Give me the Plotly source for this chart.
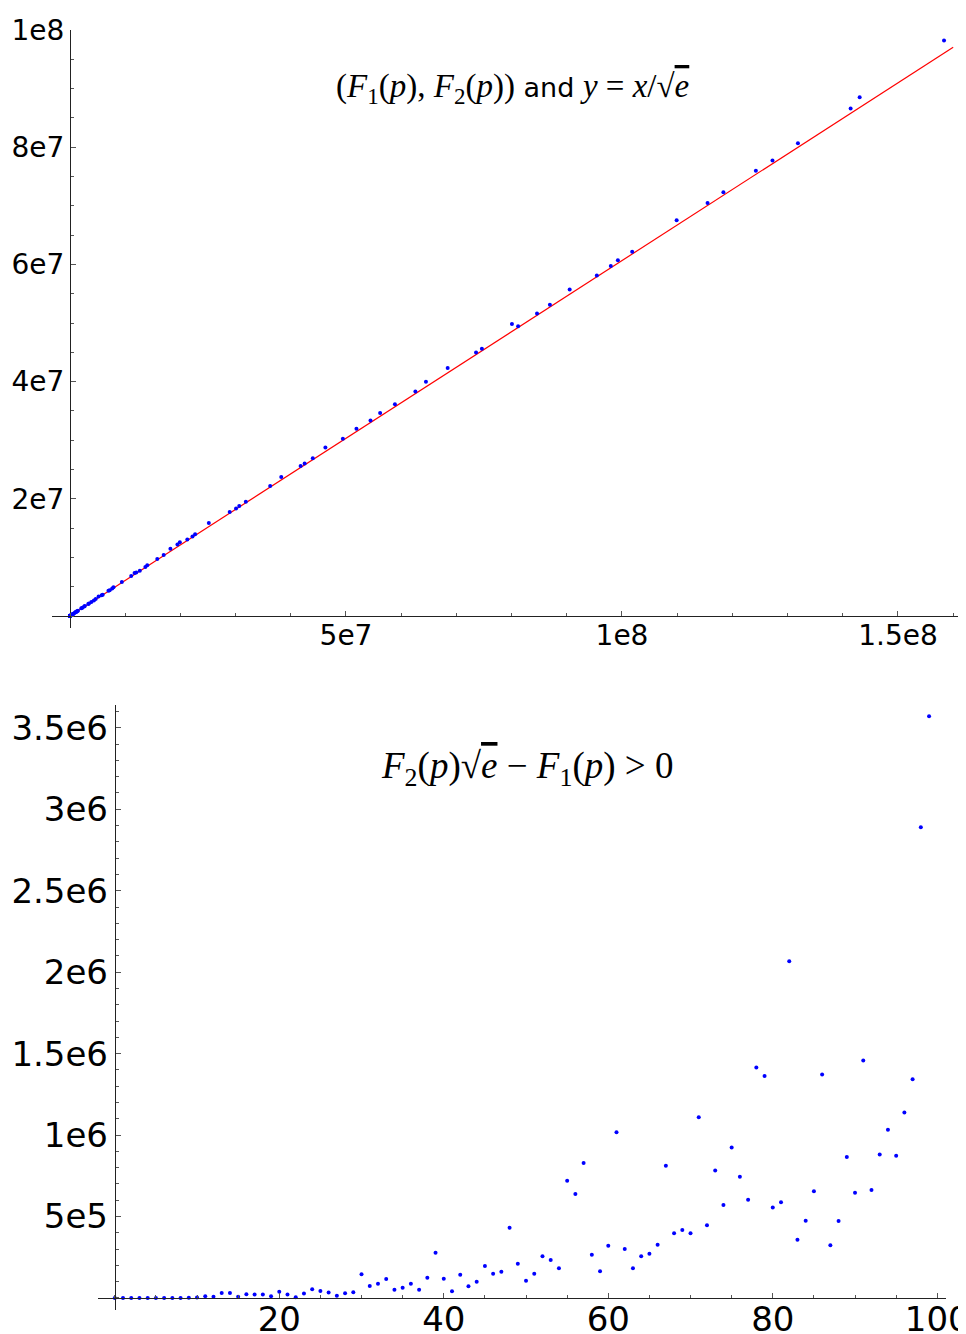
import plotly.graph_objects as go

# ---------------- data ----------------
# top panel: (F1(p), F2(p)) points
F1 = [8, 27, 125, 343, 1331, 2197, 4913, 6859, 12167, 24389,
      29791, 50653, 68921, 79507, 103823, 148877, 205379, 226981, 300763, 357911,
      389017, 493039, 571787, 704969, 912673, 1030301, 1092727, 1225043, 1295029, 1442897,
      2048383, 2248091, 2571353, 2685619, 3307949, 3442951, 3869893, 4330747, 4657463, 5177717,
      5735339, 5929741, 6967871, 7189057, 7645373, 7880599, 9393931, 11089567, 11697083, 12008989,
      12649337, 13651919, 13997521, 15813251, 16974593, 18191447, 19465109, 19902511, 21253933, 22188041,
      22665187, 25153757, 28934443, 30080231, 30664297, 31855013, 36264691, 38272753, 41781923, 42508549,
      43986977, 46268279, 49430863, 51895117, 54439939, 56181887, 58863869, 62570773, 64481201, 68417929,
      73560059, 74618461, 80062991, 81182737, 84604519, 86938307, 90518849, 95443993, 97972181, 99252847,
      101847563, 109902239, 115501303, 118370771, 124251499, 127263527, 131872229, 141420761, 143055667, 158340421]

F2 = [4.85, 16.4, 75.8, 208, 807, 1333, 2980, 4160, 7380, 16006,
      19889, 36788, 46655, 66419, 81168, 95150, 138518, 151015, 195766, 223149,
      259605, 312387, 349838, 444567, 585710, 650988, 683393, 751516, 803063, 896389,
      1330353, 1408418, 1612978, 1699872, 2037303, 2126465, 2400581, 2657661, 2900708, 3309056,
      3550225, 3621434, 4312957, 4404049, 4697801, 4898699, 5788074, 6823806, 7356046, 7411183,
      7736494, 8370671, 8645189, 9732533, 10405989, 11470360, 12193138, 12573677, 13052485, 13557184,
      13941812, 15873956, 17731567, 18354951, 18754087, 19485997, 22193959, 23706075, 25582782, 26035633,
      26920213, 28736347, 30251814, 31950858, 33365784, 34636433, 36153960, 38316789, 39968023, 42323620,
      44953613, 45614369, 49814304, 49456903, 51602674, 53127968, 55734556, 58085554, 59709349, 60724478,
      62165421, 67543325, 70457135, 72329777, 75988807, 77718648, 80675300, 86589897, 88520425, 98204135]

# red reference line y = x / sqrt(e)
line_x = [0, 160000000]
line_y = [0, 97044906]

# bottom panel: F2(p)*sqrt(e) - F1(p) against index
idx = [0, 1, 2, 3, 4, 5, 6, 7, 8, 9, 10, 11, 12, 13, 14, 15, 16, 17, 18, 19,
       20, 21, 22, 23, 24, 25, 26, 27, 28, 29, 30, 31, 32, 33, 34, 35, 36, 37, 38, 39,
       40, 41, 42, 43, 44, 45, 46, 47, 48, 49, 50, 51, 52, 53, 54, 55, 56, 57, 58, 59,
       60, 61, 62, 63, 64, 65, 66, 67, 68, 69, 70, 71, 72, 73, 74, 75, 76, 77, 78, 79,
       80, 81, 82, 83, 84, 85, 86, 87, 88, 89, 90, 91, 92, 93, 94, 95, 96, 97, 98, 99]
diff = [0, 0, 0, 0, 0, 0, 0, 0, 0, 2000,
        3000, 10000, 8000, 30000, 30000, 8000, 23000, 22000, 22000, 10000,
        39000, 22000, 5000, 28000, 53000, 43000, 34000, 14000, 29000, 35000,
        145000, 74000, 88000, 117000, 51000, 63000, 88000, 51000, 125000, 278000,
        118000, 41000, 143000, 72000, 100000, 196000, 149000, 161000, 431000, 210000,
        106000, 149000, 256000, 233000, 182000, 720000, 638000, 828000, 266000, 164000,
        321000, 1018000, 300000, 182000, 256000, 272000, 327000, 812000, 397000, 417000,
        397000, 1110000, 446000, 783000, 571000, 924000, 744000, 603000, 1415000, 1362000,
        556000, 587000, 2067000, 358000, 474000, 655000, 1372000, 323000, 472000, 865000,
        646000, 1458000, 663000, 881000, 1033000, 873000, 1139000, 1342000, 2890000, 3571000]

top_xtick_vals = [5e7, 1e8, 1.5e8]
top_xtick_text = ["5e7", "1e8", "1.5e8"]
top_ytick_vals = [2e7, 4e7, 6e7, 8e7, 1e8]
top_ytick_text = ["2e7", "4e7", "6e7", "8e7", "1e8"]
bot_xtick_vals = [20, 40, 60, 80, 100]
bot_xtick_text = ["20", "40", "60", "80", "100"]
bot_ytick_vals = [5e5, 1e6, 1.5e6, 2e6, 2.5e6, 3e6, 3.5e6]
bot_ytick_text = ["5e5", "1e6", "1.5e6", "2e6", "2.5e6", "3e6", "3.5e6"]

# ---------------- figure ----------------
W, H = 966, 1334
OFF = 8  # page body margin
AX = "#222222"
TK = "#555555"


def px_x(p):
    return (p - OFF) / W


def px_y(p):
    return 1 - (p - OFF) / H


fig = go.Figure()
fig.add_trace(go.Scatter(x=line_x, y=line_y, mode="lines",
                         line=dict(color="#ff0000", width=1.2),
                         xaxis="x", yaxis="y", hoverinfo="skip"))
fig.add_trace(go.Scatter(x=F1, y=F2, mode="markers",
                         marker=dict(color="#0000ff", size=4),
                         xaxis="x", yaxis="y"))
fig.add_trace(go.Scatter(x=idx, y=diff, mode="markers",
                         marker=dict(color="#0000ff", size=4),
                         xaxis="x2", yaxis="y2"))


def axis_common(size):
    return dict(showgrid=False, zeroline=False, showline=True, linecolor=AX, linewidth=1,
                ticks="inside", ticklen=5, tickcolor=TK, tickwidth=1,
                tickfont=dict(family="DejaVu Sans", size=size, color="black"),
                anchor="free", automargin=False, ticklabeloverflow="allow")


xa = axis_common(28)
xa.update(domain=[px_x(52), px_x(974)], range=[-3.26e6, 1.6377e8],
          position=px_y(616), tickmode="array", ticklabelstandoff=-6,
          tickvals=top_xtick_vals, ticktext=top_xtick_text,
          minor=dict(tickmode="linear", tick0=0, dtick=1e7, ticks="inside",
                     ticklen=3, tickcolor=TK))
ya = axis_common(28)
ya.update(domain=[px_y(628), px_y(30)], range=[-2.048e6, 1e8],
          position=px_x(70), tickmode="array",
          tickvals=top_ytick_vals, ticktext=top_ytick_text,
          minor=dict(tickmode="linear", tick0=0, dtick=5e6, ticks="inside",
                     ticklen=3, tickcolor=TK))
xa2 = axis_common(34)
xa2.update(domain=[px_x(98), px_x(946)], range=[-2.04, 101.06],
           position=px_y(1298), tickmode="array", ticklabelstandoff=-9,
           tickvals=bot_xtick_vals, ticktext=bot_xtick_text,
           minor=dict(tickmode="linear", tick0=0, dtick=5, ticks="inside",
                      ticklen=3, tickcolor=TK))
ya2 = axis_common(34)
ya2.update(domain=[px_y(1310), px_y(705)], range=[-0.0737e6, 3.640e6],
           position=px_x(114.8), tickmode="array",
           tickvals=bot_ytick_vals, ticktext=bot_ytick_text,
           minor=dict(tickmode="linear", tick0=0, dtick=1e5, ticks="inside",
                      ticklen=3, tickcolor=TK))

SERIF = "Liberation Serif"
NB = "\u00a0"
OVL = '<span style="text-decoration:overline">%s</span>'
title_top = ('<span style="font-family:%s;font-size:33px">(<i>F</i><sub>1</sub>(<i>p</i>),'
             ' <i>F</i><sub>2</sub>(<i>p</i>))</span> and '
             '<span style="font-family:%s;font-size:33px"><i>y</i>%s=%s<i>x</i>/√%s</span>'
             ) % (SERIF, SERIF, NB, NB, OVL % "<i>e</i>")
title_bot = ('<i>F</i><sub>2</sub>(<i>p</i>)√%s%s−%s'
             '<i>F</i><sub>1</sub>(<i>p</i>)%s>%s0') % (OVL % "<i>e</i>", NB, NB, NB, NB)

fig.update_layout(
    width=W, height=H,
    margin=dict(l=0, r=0, t=0, b=0),
    paper_bgcolor="white", plot_bgcolor="white",
    showlegend=False,
    xaxis=xa, yaxis=ya, xaxis2=xa2, yaxis2=ya2,
    annotations=[
        dict(text=title_top, x=px_x(512), y=px_y(88), xref="paper", yref="paper",
             xanchor="center", yanchor="middle", showarrow=False,
             font=dict(family="DejaVu Sans", size=27, color="black")),
        dict(text=title_bot, x=px_x(527), y=px_y(768), xref="paper", yref="paper",
             xanchor="center", yanchor="middle", showarrow=False,
             font=dict(family=SERIF, size=37, color="black")),
    ],
)

fig.write_html("out.html")
